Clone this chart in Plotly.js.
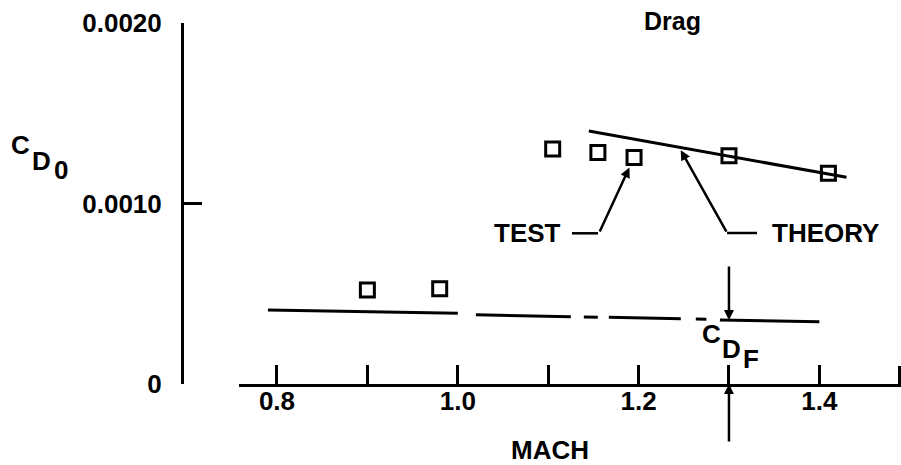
<!DOCTYPE html>
<html>
<head>
<meta charset="utf-8">
<script src="https://cdn.plot.ly/plotly-3.0.1.min.js"></script>
<style>html,body{margin:0;padding:0;background:#fff;}#chart{width:901px;height:465px;}</style>
</head>
<body>
<div id="chart"></div>
<script>
// ---- data ----
const testMach = [0.90, 0.98, 1.105, 1.155, 1.195, 1.30, 1.41];
const testCD0  = [0.000521, 0.000528, 0.001302, 0.001283, 0.001255, 0.001264, 0.001167];

const theoryMach = [1.145, 1.43];
const theoryCD0  = [0.001402, 0.001145];

const cdfMachA = [0.79, 1.00];
const cdfA     = [0.000410, 0.000392];
const cdfMachB = [1.02, 1.275];
const cdfB     = [0.000383, 0.000359];
const cdfMachC = [1.29, 1.40];
const cdfC     = [0.000355, 0.000345];

const xTickVals = [0.8, 0.9, 1.0, 1.1, 1.2, 1.3, 1.4];
const xTickText = ['0.8', '', '1.0', '', '1.2', '', '1.4'];
const yTickVals = [0, 0.001, 0.002];
const yTickText = ['0', '0.0010', '0.0020'];

// ---- layout helpers (pixel -> paper) ----
const W = 901, H = 465, ML = 182, MR = 0, MT = 23, MB = 81;
const PW = W - ML - MR, PH = H - MT - MB;
const px = x => (x - ML) / PW;
const py = y => (H - MB - y) / PH;

const FONT = 'Liberation Sans, Arial, sans-serif';
const blk = '#000';
const lineStyle = {color: blk, width: 3};

const traces = [
  {x: cdfMachA, y: cdfA, mode: 'lines', line: lineStyle, hoverinfo: 'skip'},
  {x: cdfMachB, y: cdfB, mode: 'lines', line: {color: blk, width: 3, dash: '95px,13px,14px,11px,72px,15px,12px,40px'}, hoverinfo: 'skip'},
  {x: cdfMachC, y: cdfC, mode: 'lines', line: lineStyle, hoverinfo: 'skip'},
  {x: theoryMach, y: theoryCD0, mode: 'lines', line: lineStyle, name: 'THEORY'},
  {x: testMach, y: testCD0, mode: 'markers', name: 'TEST',
   marker: {symbol: 'square-open', size: 14, color: blk, line: {color: blk, width: 3}}}
];

const txt = (t, x, y, size) => ({
  text: t, xref: 'paper', yref: 'paper', x: px(x), y: py(y),
  xanchor: 'center', yanchor: 'middle', showarrow: false,
  font: {family: FONT, size: size || 26, color: blk, weight: 700}
});

const arrow = (x, y, ax, ay, standoff) => ({
  text: '', xref: 'x', yref: 'y', x: x, y: y, ax: ax, ay: ay,
  showarrow: true, arrowhead: 2, arrowsize: 0.8, arrowwidth: 2.5,
  arrowcolor: blk, standoff: standoff || 0
});

const annotations = [
  txt('C', 20, 145), txt('D', 41, 161), txt('0', 60.5, 170),
  txt('MACH', 550, 450),
  txt('TEST', 527.5, 233.3), txt('THEORY', 825.8, 233),
  txt('C', 711, 334), txt('D', 731, 349), txt('F', 750.5, 359),
  arrow(1.195, 0.001255, -35, 75.5, 11),
  arrow(1.245, 0.00131, 48, 85.5, 3),
  arrow(1.30, 0.000355, 0, -55, 0),
  arrow(1.30, 0, 0, 59, 0)
];

const seg = (x0, y0, x1, y1) => ({
  type: 'line', xref: 'paper', yref: 'paper',
  x0: px(x0), y0: py(y0), x1: px(x1), y1: py(y1),
  line: {color: blk, width: 2.5}
});

const shapes = [
  seg(572, 233.3, 598, 233.3),
  seg(727, 233, 757, 233),
  {type: 'line', xref: 'paper', yref: 'paper', x0: px(899.5), x1: px(899.5), y0: 0, y1: py(366),
   line: {color: blk, width: 3}}
];

const layout = {
  width: W, height: H,
  margin: {l: ML, r: MR, t: MT, b: MB, pad: 0},
  paper_bgcolor: '#fff', plot_bgcolor: '#fff',
  showlegend: false,
  font: {family: FONT, color: blk, size: 26},
  title: {text: 'Drag', x: 672.5 / W, xanchor: 'center', xref: 'container',
          y: 1 - 21.5 / H, yanchor: 'middle', yref: 'container',
          font: {family: FONT, size: 25, color: blk, weight: 700}},
  xaxis: {
    domain: [px(239), 1], range: [0.758, 1.4903], anchor: 'y',
    showline: true, linewidth: 3, linecolor: blk,
    ticks: 'inside', ticklen: 19, tickwidth: 3, tickcolor: blk,
    tickmode: 'array', tickvals: xTickVals, ticktext: xTickText,
    tickfont: {family: FONT, size: 26, color: blk, weight: 700},
    ticklabelstandoff: -8,
    showgrid: false, zeroline: false, fixedrange: true
  },
  yaxis: {
    anchor: 'free', position: 0, side: 'left', range: [0, 0.002],
    showline: true, linewidth: 3, linecolor: blk,
    ticks: 'inside', ticklen: 18, tickwidth: 3, tickcolor: blk,
    tickmode: 'array', tickvals: yTickVals, ticktext: yTickText,
    tickfont: {family: FONT, size: 26, color: blk, weight: 700},
    ticklabelstandoff: 14,
    showgrid: false, zeroline: false, fixedrange: true
  },
  annotations: annotations,
  shapes: shapes
};

Plotly.newPlot('chart', traces, layout, {displayModeBar: false, staticPlot: true});
</script>
</body>
</html>
